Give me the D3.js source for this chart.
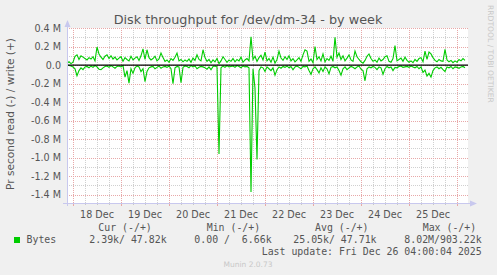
<!DOCTYPE html>
<html><head><meta charset="utf-8">
<script src="https://cdn.jsdelivr.net/npm/d3@7"></script>
<style>
html,body{margin:0;padding:0;background:#F0F0F0;}
svg{display:block;}
text{font-family:"DejaVu Sans",sans-serif;}
.mono{font-family:"DejaVu Sans Mono",monospace;white-space:pre;}
</style></head>
<body><svg id="c" width="497" height="275"></svg>
<script>
// ---- data (hourly samples, in kB/s) ----
const startTime = new Date(2025, 11, 17, 21, 0, 0);
const endTime = new Date(2025, 11, 26, 5, 0, 0);
const writeK = [
 20,35,15,30,95,110,60,100,85,70,
 55,80,65,90,45,195,120,85,60,95,
 110,70,100,65,85,55,75,90,40,80,
 60,45,95,55,75,90,50,100,175,60,
 165,80,55,70,95,45,65,130,80,40,
 55,30,70,50,85,130,45,60,35,55,
 40,65,30,75,50,110,60,45,165,80,
 40,60,25,55,35,70,15,45,90,60,
 30,55,40,70,35,60,45,85,30,55,
 70,45,305,60,95,40,80,105,55,140,
 45,70,30,85,20,60,150,75,50,90,
 60,100,45,70,35,55,80,40,110,165,
 150,40,65,25,200,60,90,45,120,35,
 70,50,95,40,300,85,130,60,100,45,
 75,110,55,40,150,90,60,35,20,50,
 95,120,70,40,55,30,75,45,60,90,
 100,40,30,70,210,45,60,75,40,85,
 50,30,45,25,60,40,70,80,35,150,
 60,140,120,80,50,35,60,45,40,170,
 55,35,50,25,45,30,60,45,70,50];
const readK = [
 0,5,10,20,40,115,60,30,50,20,
 15,30,10,25,5,20,45,50,30,15,
 10,25,5,20,35,15,10,20,5,130,
 60,195,40,90,30,10,20,70,40,180,
 70,30,20,15,40,25,10,35,20,15,
 25,10,40,200,30,15,20,190,25,10,
 15,30,5,20,10,40,25,15,20,30,
 45,20,50,15,10,20,960,30,10,25,
 5,20,15,10,25,5,15,30,10,20,
 15,30,1370,40,250,1020,60,20,30,70,
 20,40,60,30,110,50,20,35,15,25,
 10,30,15,50,20,10,25,40,15,20,
 10,60,100,40,20,50,85,30,70,20,
 40,95,25,15,30,20,60,110,40,20,
 50,30,15,25,40,20,10,45,60,170,
 40,20,30,15,25,50,20,30,100,40,
 15,30,20,60,25,30,15,10,25,20,
 15,25,10,20,30,15,40,20,80,55,
 120,90,130,60,30,20,40,25,50,70,
 20,30,15,40,20,25,35,20,15,30];
const yTicks = [0.4e6,0.2e6,0,-0.2e6,-0.4e6,-0.6e6,-0.8e6,-1.0e6,-1.2e6,-1.4e6];
const yTickLabels = ["0.4 M","0.2 M","0.0","-0.2 M","-0.4 M","-0.6 M","-0.8 M","-1.0 M","-1.2 M","-1.4 M"];
const dayLabels = ["18 Dec","19 Dec","20 Dec","21 Dec","22 Dec","23 Dec","24 Dec","25 Dec"];
const legendHeaders = ["Cur (-/+)","Min (-/+)","Avg (-/+)","Max (-/+)"];
const legendValues = ["2.39k/ 47.82k","0.00 /  6.66k","25.05k/ 47.71k","8.02M/903.22k"];
const seriesName = "Bytes";
const titleText = "Disk throughput for /dev/dm-34 - by week";
const yTitle = "Pr second read (-) / write (+)";
const lastUpdate = "Last update: Fri Dec 26 04:00:04 2025";
const footer = "Munin 2.0.73";
const sideText = "RRDTOOL / TOBI OETIKER";

// ---- layout ----
const svg = d3.select("#c");
const L = 67, R = 467, T = 28, B = 203;
const x = d3.scaleTime().domain([startTime, endTime]).range([L, R]);
const y = d3.scaleLinear().domain([-1.49e6, 0.4e6]).range([B, T]);

svg.append("rect").attr("width",497).attr("height",275).attr("fill","#F0F0F0");
svg.append("rect").attr("x",L).attr("y",T).attr("width",R-L+1).attr("height",B-T).attr("fill","#FFFFFF");

// grid
const minorY = d3.range(-14,5).map(v=>v*1e5).filter(v=>Math.round(v/1e5)%2!==0);
const hours6 = d3.timeHour.every(6).range(startTime, endTime).filter(d=>d.getHours()!==0);
const days = d3.timeDay.range(startTime, endTime);
const g = svg.append("g");
g.selectAll(".mny").data(minorY).join("line")
 .attr("x1",L).attr("x2",R+1).attr("y1",d=>Math.round(y(d))+0.5).attr("y2",d=>Math.round(y(d))+0.5)
 .attr("stroke","#d0d0d0").attr("stroke-dasharray","1,1");
g.selectAll(".mnx").data(hours6).join("line")
 .attr("x1",d=>Math.round(x(d))+0.5).attr("x2",d=>Math.round(x(d))+0.5).attr("y1",T).attr("y2",B)
 .attr("stroke","#d0d0d0").attr("stroke-dasharray","1,1");
g.selectAll(".mjy").data(yTicks).join("line")
 .attr("x1",L).attr("x2",R+1).attr("y1",d=>Math.round(y(d))+0.5).attr("y2",d=>Math.round(y(d))+0.5)
 .attr("stroke","#e8a8a8").attr("stroke-dasharray","1,1");
g.selectAll(".mjx").data(days).join("line")
 .attr("x1",d=>Math.round(x(d))+0.5).attr("x2",d=>Math.round(x(d))+0.5).attr("y1",T).attr("y2",B)
 .attr("stroke","#e8a8a8").attr("stroke-dasharray","1,1");
// ticks on x axis
g.selectAll(".tk").data(days).join("line")
 .attr("x1",d=>Math.round(x(d))+0.5).attr("x2",d=>Math.round(x(d))+0.5).attr("y1",B).attr("y2",B+3)
 .attr("stroke","#e8a8a8");
g.selectAll(".tk2").data(hours6).join("line")
 .attr("x1",d=>Math.round(x(d))+0.5).attr("x2",d=>Math.round(x(d))+0.5).attr("y1",B).attr("y2",B+2)
 .attr("stroke","#c8c8c8");

// y labels
svg.selectAll(".yl").data(yTicks).join("text")
 .attr("x",61).attr("y",d=>y(d)+3.5).attr("text-anchor","end")
 .attr("font-size","9.6px").attr("fill","#555").text((d,i)=>yTickLabels[i]);
// x labels at noon
const noons = days.map(d=>d3.timeHour.offset(d,12));
svg.selectAll(".xl").data(noons).join("text")
 .attr("x",d=>x(d)).attr("y",B+15).attr("text-anchor","middle")
 .attr("font-size","9.6px").attr("fill","#555").text((d,i)=>dayLabels[i]);

// data lines
const times = writeK.map((v,i)=>d3.timeHour.offset(startTime,i));
const line = d3.line().x(d=>x(d[0])).y(d=>y(d[1]));
svg.append("path").datum(times.map((t,i)=>[t, readK[i]*-1000]))
 .attr("d",line).attr("fill","none").attr("stroke","#00CC00").attr("stroke-width",1.1);
svg.append("path").datum(times.map((t,i)=>[t, writeK[i]*1000]))
 .attr("d",line).attr("fill","none").attr("stroke","#00CC00").attr("stroke-width",1.1);
// zero rule
svg.append("line").attr("x1",L).attr("x2",R+1).attr("y1",y(0)).attr("y2",y(0))
 .attr("stroke","#000").attr("stroke-width",1.2);

// axes
const axc = "#c8c8ee";
svg.append("line").attr("x1",63).attr("x2",471).attr("y1",B+0.5).attr("y2",B+0.5).attr("stroke",axc);
svg.append("line").attr("x1",L+0.5).attr("x2",L+0.5).attr("y1",B+3).attr("y2",23).attr("stroke",axc);
svg.append("path").attr("d",`M${L-2.5},${27}L${L+0.5},${20}L${L+3.5},${27}Z`).attr("fill",axc);
svg.append("path").attr("d",`M${470},${B-2.5}L${477},${B+0.5}L${470},${B+3.5}Z`).attr("fill",axc);

// title
svg.append("text").attr("x",248).attr("y",24).attr("text-anchor","middle")
 .attr("font-size","12.8px").attr("fill","#555").text(titleText);
// y title
svg.append("text").attr("transform","translate(14,114) rotate(-90)").attr("text-anchor","middle")
 .attr("font-size","10.6px").attr("fill","#555").text(yTitle);
// side text
svg.append("text").attr("transform","translate(488,5) rotate(90)").attr("text-anchor","start")
 .attr("font-size","7.6px").attr("fill","#c8c8c8").text(sideText);

// legend
const headX = [98.3,206.7,315,422.7];
const valX = [89.3,194.3,293.3,404.3];
svg.selectAll(".lh").data(legendHeaders).join("text").attr("class","mono")
 .attr("x",(d,i)=>headX[i]).attr("y",231).attr("font-size","9.9px").attr("fill","#555").text(d=>d);
svg.append("rect").attr("x",14).attr("y",237).attr("width",6).attr("height",6).attr("fill","#00CC00");
svg.append("text").attr("class","mono").attr("x",26.5).attr("y",243).attr("font-size","9.9px").attr("fill","#555").text(seriesName);
svg.selectAll(".lv").data(legendValues).join("text").attr("class","mono")
 .attr("x",(d,i)=>valX[i]).attr("y",243).attr("font-size","9.9px").attr("fill","#555").text(d=>d);
svg.append("text").attr("class","mono").attr("x",261.7).attr("y",255).attr("font-size","9.9px").attr("fill","#555").text(lastUpdate);
svg.append("text").attr("x",248).attr("y",267).attr("text-anchor","middle").attr("font-size","7.5px").attr("fill","#c8c8c8").text(footer);
</script></body></html>
